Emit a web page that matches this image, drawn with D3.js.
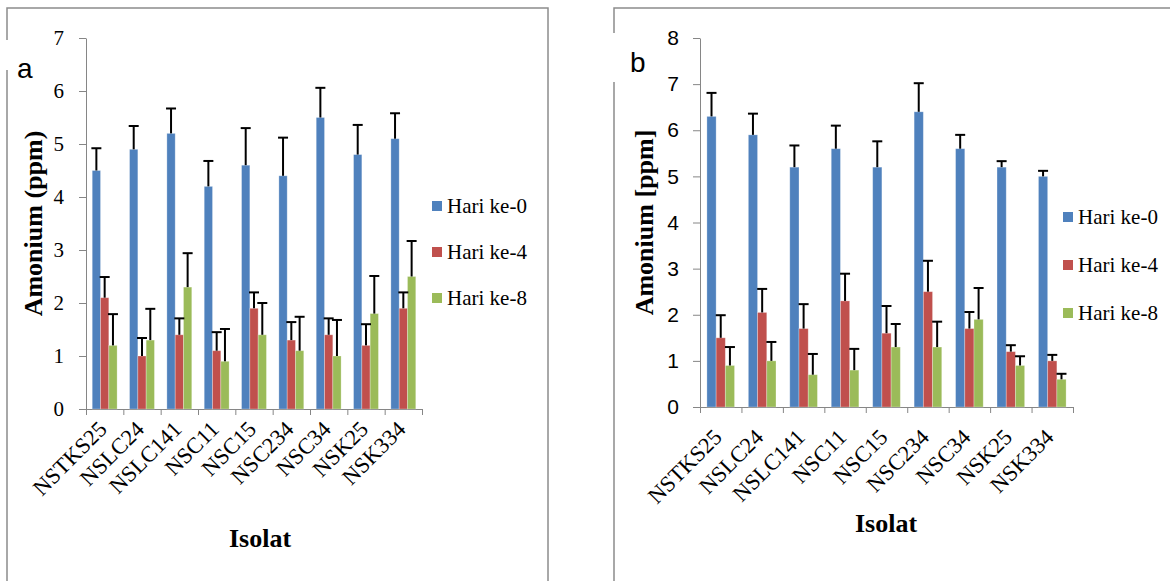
<!DOCTYPE html>
<html>
<head>
<meta charset="utf-8">
<script src="https://cdn.jsdelivr.net/npm/d3@7"></script>
<style>
  body { margin: 0; background: #fff; }
  svg { display: block; }
</style>
</head>
<body>
<svg id="chart" width="1170" height="581"></svg>
<script>
// isolat names + series labels
var isolat = ["NSTKS25", "NSLC24", "NSLC141", "NSC11", "NSC15", "NSC234", "NSC34", "NSK25", "NSK334"];
var seriesNames = ["Hari ke-0", "Hari ke-4", "Hari ke-8"];
var seriesColors = ["#4F81BD", "#C0504D", "#9BBB59"];

// panel a values (ppm) and +error
var aHari0 = [4.5, 4.9, 5.2, 4.2, 4.6, 4.4, 5.5, 4.8, 5.1];
var aHari4 = [2.1, 1.0, 1.4, 1.1, 1.9, 1.3, 1.4, 1.2, 1.9];
var aHari8 = [1.2, 1.3, 2.3, 0.9, 1.4, 1.1, 1.0, 1.8, 2.5];
var aErr0 = [0.42, 0.44, 0.47, 0.48, 0.7, 0.72, 0.56, 0.56, 0.48];
var aErr4 = [0.39, 0.34, 0.31, 0.35, 0.3, 0.34, 0.31, 0.4, 0.3];
var aErr8 = [0.59, 0.59, 0.64, 0.61, 0.6, 0.64, 0.68, 0.71, 0.67];
var aTicks = [0, 1, 2, 3, 4, 5, 6, 7];

// panel b values (ppm) and +error
var bHari0 = [6.3, 5.9, 5.2, 5.6, 5.2, 6.4, 5.6, 5.2, 5.0];
var bHari4 = [1.5, 2.05, 1.7, 2.3, 1.6, 2.5, 1.7, 1.2, 1.0];
var bHari8 = [0.9, 1.0, 0.7, 0.8, 1.3, 1.3, 1.9, 0.9, 0.6];
var bErr0 = [0.51, 0.46, 0.47, 0.5, 0.56, 0.62, 0.3, 0.13, 0.12];
var bErr4 = [0.49, 0.51, 0.53, 0.59, 0.59, 0.67, 0.36, 0.14, 0.13];
var bErr8 = [0.4, 0.41, 0.45, 0.46, 0.5, 0.55, 0.68, 0.2, 0.12];
var bTicks = [0, 1, 2, 3, 4, 5, 6, 7, 8];

var serif = "'Liberation Serif', 'Times New Roman', serif";
var sans = "'Liberation Sans', Arial, sans-serif";
var svg = d3.select("#chart");

function drawPanel(cfg) {
  var g = svg.append("g");

  // frame round the panel
  g.append("rect")
    .attr("x", cfg.frame[0]).attr("y", cfg.frame[1])
    .attr("width", cfg.frame[2]).attr("height", cfg.frame[3])
    .attr("fill", "none").attr("stroke", "#8c8c8c").attr("stroke-width", 1.5);
  g.append("rect")
    .attr("x", cfg.frame[0] - 6).attr("y", cfg.gap[0])
    .attr("width", 12).attr("height", cfg.gap[1] - cfg.gap[0])
    .attr("fill", "#fff");
  g.append("text")
    .attr("x", cfg.letterPos[0]).attr("y", cfg.letterPos[1])
    .style("font-family", sans).style("font-size", "28px")
    .text(cfg.letter);

  var y = d3.scaleLinear().domain([0, cfg.yMax]).range([cfg.bottom, cfg.top]);
  var x = d3.scaleBand().domain(isolat).range([cfg.left, cfg.right]);
  var bw = x.bandwidth(), w = bw / 4.5;
  var xs = d3.scaleBand().domain(seriesNames).range([0.75 * w, bw - 0.75 * w]);
  var xEdge = d3.scaleLinear().domain([0, isolat.length]).range([cfg.left, cfg.right]);

  // y axis
  var yAx = g.append("g")
    .attr("transform", "translate(" + cfg.left + ",0)")
    .call(d3.axisLeft(y).tickValues(cfg.ticks).tickFormat(d3.format("d"))
      .tickSize(7).tickSizeOuter(0).tickPadding(cfg.tickPad));
  yAx.select(".domain").attr("stroke", "#868686");
  yAx.selectAll(".tick line").attr("stroke", "#868686");
  yAx.selectAll(".tick text")
    .style("font-family", cfg.tickFont).style("font-size", "21px").attr("fill", "#000");

  // x axis, ticks on the category edges
  var xAx = g.append("g")
    .attr("transform", "translate(0," + cfg.bottom + ")")
    .call(d3.axisBottom(xEdge).tickValues(d3.range(isolat.length + 1))
      .tickFormat("").tickSize(6).tickSizeOuter(0));
  xAx.select(".domain").attr("stroke", "#868686");
  xAx.selectAll(".tick line").attr("stroke", "#868686");

  // bars
  var rows = isolat.map(function (k, i) {
    return seriesNames.map(function (s, j) {
      return { cat: k, s: s, v: cfg.values[j][i], e: cfg.errors[j][i], c: seriesColors[j] };
    });
  });
  var grp = g.selectAll(".grp").data(rows).enter().append("g")
    .attr("transform", function (d) { return "translate(" + x(d[0].cat) + ",0)"; });
  grp.selectAll("rect").data(function (d) { return d; }).enter().append("rect")
    .attr("x", function (d) { return xs(d.s); })
    .attr("width", xs.bandwidth())
    .attr("y", function (d) { return y(d.v); })
    .attr("height", function (d) { return y(0) - y(d.v); })
    .attr("fill", function (d) { return d.c; })
    .attr("stroke", "#ffffff").attr("stroke-opacity", 0.35).attr("stroke-width", 0.8);

  // plus-only error bars
  var eb = grp.selectAll(".eb").data(function (d) { return d; }).enter().append("g")
    .attr("stroke", "#000").attr("stroke-width", 2);
  eb.append("line")
    .attr("x1", function (d) { return xs(d.s) + xs.bandwidth() / 2; })
    .attr("x2", function (d) { return xs(d.s) + xs.bandwidth() / 2; })
    .attr("y1", function (d) { return y(d.v); })
    .attr("y2", function (d) { return y(d.v + d.e); });
  eb.append("line")
    .attr("x1", function (d) { return xs(d.s) + xs.bandwidth() / 2 - 5; })
    .attr("x2", function (d) { return xs(d.s) + xs.bandwidth() / 2 + 5; })
    .attr("y1", function (d) { return y(d.v + d.e); })
    .attr("y2", function (d) { return y(d.v + d.e); });

  // rotated category labels
  g.selectAll(".xl").data(isolat).enter().append("text")
    .attr("transform", function (d) {
      return "translate(" + (x(d) + bw / 2 + cfg.lab[0]) + "," + (cfg.bottom + cfg.lab[1]) + ") rotate(-45)";
    })
    .attr("text-anchor", "end").attr("dy", "0.35em")
    .style("font-family", serif).style("font-size", "22.5px")
    .text(function (d) { return d; });

  // axis titles
  g.append("text")
    .attr("transform", "translate(" + cfg.yTitleX + "," + ((cfg.top + cfg.bottom) / 2) + ") rotate(-90)")
    .attr("text-anchor", "middle").attr("dy", "0.35em")
    .style("font-family", serif).style("font-size", "26px").style("font-weight", "bold")
    .text(cfg.yTitle);
  g.append("text")
    .attr("x", cfg.xTitle[0]).attr("y", cfg.xTitle[1])
    .attr("text-anchor", "middle")
    .style("font-family", serif).style("font-size", "26px").style("font-weight", "bold")
    .text("Isolat");

  // legend
  var lg = g.selectAll(".lg").data(seriesNames).enter().append("g")
    .attr("transform", function (d, i) {
      return "translate(" + cfg.legend[0] + "," + (cfg.legend[1] + i * cfg.legend[2]) + ")";
    });
  lg.append("rect").attr("x", 0).attr("y", -5).attr("width", 10).attr("height", 10)
    .attr("fill", function (d, i) { return seriesColors[i]; });
  lg.append("text").attr("x", 15).attr("dy", "0.35em")
    .style("font-family", serif).style("font-size", "21px")
    .text(function (d) { return d; });
}

drawPanel({
  frame: [7, 8, 541, 620], gap: [40, 70], letter: "a", letterPos: [17, 78],
  left: 86, right: 422, top: 38, bottom: 409, yMax: 7, ticks: aTicks,
  tickFont: serif, tickPad: 15,
  values: [aHari0, aHari4, aHari8], errors: [aErr0, aErr4, aErr8],
  lab: [-2, 16], yTitle: "Amonium (ppm)", yTitleX: 33, xTitle: [260, 547],
  legend: [432, 206, 46]
});

drawPanel({
  frame: [614, 8, 600, 620], gap: [33, 82], letter: "b", letterPos: [630, 72],
  left: 700, right: 1073, top: 38, bottom: 407, yMax: 8, ticks: bTicks,
  tickFont: sans, tickPad: 14,
  values: [bHari0, bHari4, bHari8], errors: [bErr0, bErr4, bErr8],
  lab: [-3, 26], yTitle: "Amonium [ppm]", yTitleX: 644, xTitle: [886, 532],
  legend: [1063, 217, 48]
});
</script>
</body>
</html>
